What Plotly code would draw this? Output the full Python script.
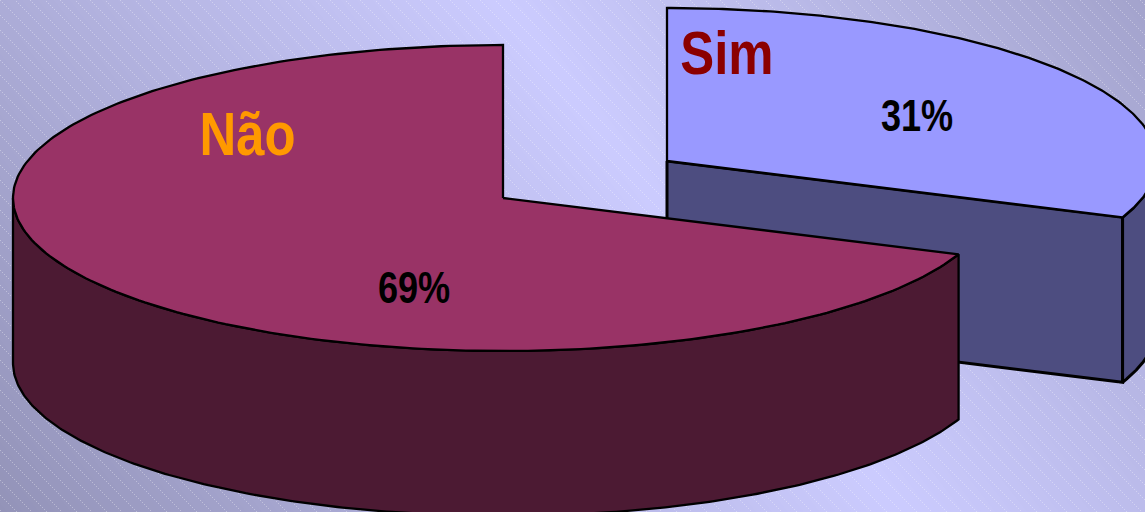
import base64, struct, zlib
import numpy as np
import plotly.graph_objects as go

labels = ["Sim", "Não"]
shares = [31, 69]
share_text = ["31%", "69%"]

W, H = 1145, 512
RX, RY, DEPTH = 490, 153, 165
START = 90.0  # the first slice starts at the top of the ellipse, going clockwise
CENTERS = {"Sim": (667, 161), "Não": (503, 198)}
TOP = {"Sim": "#9999FF", "Não": "#993366"}
SIDE = {"Sim": "#4D4D80", "Não": "#4C1A33"}
LABEL_COLOR = {"Sim": "#8B0000", "Não": "#FF9900"}
LABEL_POS = {"Sim": (727, 52), "Não": (247, 133)}
SHARE_POS = {"Sim": (917, 115), "Não": (414, 287)}
TEXT_NARROW = 0.82  # the reference text is horizontally condensed


def background():
    yy, xx = np.mgrid[0:H, 0:W].astype(float)
    d = np.abs(xx - (500 + 0.78 * yy))
    v = 1 - (d / 650) * 0.2
    xi, yi = xx.astype(int), yy.astype(int)
    stripe = (((xi - yi) % 15) == 0) & ((xi % 2) == 0)
    img = np.stack([204 * v, 204 * v, 255 * v], axis=2)
    img[stripe] = img[stripe] * 0.67 + 255 * 0.33
    img = img.clip(0, 255).astype(np.uint8)
    raw = b"".join(b"\x00" + img[r].tobytes() for r in range(H))

    def chunk(tag, data):
        body = tag + data
        return struct.pack(">I", len(data)) + body + struct.pack(">I", zlib.crc32(body))

    png = b"\x89PNG\r\n\x1a\n" + chunk(b"IHDR", struct.pack(">IIBBBBB", W, H, 8, 2, 0, 0, 0))
    png += chunk(b"IDAT", zlib.compress(raw, 9)) + chunk(b"IEND", b"")
    return "data:image/png;base64," + base64.b64encode(png).decode()


def arc(center, a0, a1, dy=0, n=240):
    t = np.radians(np.linspace(a0, a1, n))
    return center[0] + RX * np.cos(t), center[1] - RY * np.sin(t) + dy


def poly(fig, x, y, fill, width=2.3):
    fig.add_trace(go.Scatter(x=list(x), y=list(y), mode="lines", fill="toself", fillcolor=fill,
                             line=dict(color="#000000", width=width), hoverinfo="skip", showlegend=False))


fig = go.Figure()
sweep_sim = shares[0] / sum(shares) * 360
cut = START - sweep_sim  # both slices share this cut angle

# Sim: flat cut face, outer wall, top
c = CENTERS["Sim"]
ex, ey = arc(c, cut, cut, n=1)
poly(fig, [c[0], ex[0], ex[0], c[0], c[0]], [c[1], ey[0], ey[0] + DEPTH, c[1] + DEPTH, c[1]], SIDE["Sim"], 3)
ax, ay = arc(c, cut, 0)
bx, by = arc(c, 0, cut, DEPTH)
poly(fig, np.r_[ax, bx, ax[0]], np.r_[ay, by, ay[0]], SIDE["Sim"], 3)
ax, ay = arc(c, START, cut)
poly(fig, np.r_[c[0], ax, c[0]], np.r_[c[1], ay, c[1]], TOP["Sim"])

# Não: outer wall, top
c = CENTERS["Não"]
ax, ay = arc(c, 180, 360 + cut)
bx, by = arc(c, 360 + cut, 180, DEPTH)
poly(fig, np.r_[ax, bx, ax[0]], np.r_[ay, by, ay[0]], SIDE["Não"])
ax, ay = arc(c, START, 360 + cut)
poly(fig, np.r_[c[0], ax, c[0]], np.r_[c[1], ay, c[1]], TOP["Não"])

annotations = []
for name, pct in zip(labels, share_text):
    annotations.append(dict(x=LABEL_POS[name][0], y=LABEL_POS[name][1], text=name, showarrow=False,
                            font=dict(family="Liberation Sans", weight="bold", size=62, color=LABEL_COLOR[name])))
    annotations.append(dict(x=SHARE_POS[name][0], y=SHARE_POS[name][1], text=pct, showarrow=False,
                            font=dict(family="Liberation Sans", weight="bold", size=44, color="#000000")))

fig.update_layout(
    width=W, height=H, autosize=False, margin=dict(l=0, r=0, t=0, b=0),
    paper_bgcolor="#CCCCFF", plot_bgcolor="rgba(0,0,0,0)", showlegend=False,
    xaxis=dict(range=[0, W], visible=False, fixedrange=True),
    yaxis=dict(range=[H, 0], visible=False, fixedrange=True),
    annotations=annotations,
    images=[dict(source=background(), xref="x", yref="y", x=0, y=0, sizex=W, sizey=H,
                 sizing="stretch", xanchor="left", yanchor="top", layer="below")],
)
post = """
document.documentElement.style.margin = '0';
document.body.style.margin = '0';
document.body.style.overflow = 'hidden';
document.querySelectorAll('.annotation-text').forEach(function (t) {
  t.setAttribute('textLength', t.getComputedTextLength() * %s);
  t.setAttribute('lengthAdjust', 'spacingAndGlyphs');
});
""" % TEXT_NARROW
fig.write_html("out.html", config=dict(displayModeBar=False), post_script=post)
